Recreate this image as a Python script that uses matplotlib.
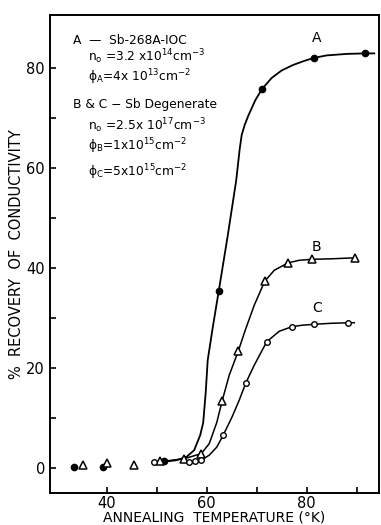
import matplotlib.pyplot as plt

plt.rcParams['font.family'] = ['DejaVu Sans']
plt.rcParams['mathtext.default'] = 'regular'

# measured points (markers)
a_x = [33.4, 39.3, 51.5, 62.4, 71.0, 81.4, 91.6]
a_y = [0.1, 0.2, 1.3, 35.3, 75.7, 82.0, 82.9]
b_x = [35.3, 40.1, 45.5, 50.6, 55.5, 58.9, 63.1, 66.3, 71.6, 76.3, 81.1, 89.7]
b_y = [0.6, 1.0, 0.6, 1.3, 1.8, 2.8, 13.4, 23.3, 37.3, 41.0, 41.7, 42.0]
c_x = [49.5, 56.5, 57.6, 58.9, 63.3, 67.8, 72.0, 77.0, 81.5, 88.3]
c_y = [1.1, 1.2, 1.3, 1.5, 6.5, 16.9, 25.2, 28.2, 28.7, 29.0]

# hand-drawn curves
a_line_x = [51.5, 54.0, 56.0, 57.5, 58.7, 59.3, 59.8, 60.2, 61.2, 62.4, 64.2, 65.9,
            66.2, 66.6, 67.0, 67.6, 68.3, 69.7, 71.0, 73.0, 75.0, 77.3, 79.5, 81.4,
            84.0, 88.0, 91.6, 93.5]
a_line_y = [1.2, 1.5, 2.2, 3.5, 6.5, 9.0, 15.0, 21.5, 28.0, 35.3, 46.4, 57.5,
            60.2, 63.8, 66.6, 68.6, 70.4, 73.5, 75.7, 78.0, 79.5, 80.6, 81.4, 82.0,
            82.5, 82.8, 82.9, 82.9]
b_line_x = [51.5, 55.5, 58.9, 60.5, 62.0, 63.1, 64.5, 66.3, 67.7, 69.5, 71.6, 73.5,
            76.3, 78.5, 81.1, 85.0, 89.7]
b_line_y = [1.3, 1.8, 2.8, 4.8, 9.0, 13.4, 18.5, 23.3, 27.5, 32.5, 37.3, 39.5,
            41.0, 41.5, 41.7, 41.8, 42.0]
c_line_x = [55.5, 56.5, 57.6, 58.9, 60.5, 62.0, 63.3, 65.0, 66.5, 67.8, 69.5, 72.0,
            74.5, 77.0, 79.0, 81.5, 85.0, 88.3, 89.5]
c_line_y = [1.6, 1.2, 1.3, 1.5, 2.5, 4.1, 6.5, 10.0, 13.5, 16.9, 20.5, 25.2,
            27.3, 28.2, 28.5, 28.7, 28.9, 29.0, 29.0]

x_major = [40, 60, 80]
x_minor = [50, 70, 90]
y_major = [0, 20, 40, 60, 80]
y_minor = [10, 30, 50, 70]

fig = plt.figure(figsize=(3.81, 5.25), dpi=100)
ax = fig.add_axes([0.131, 0.061, 0.864, 0.910])

ax.plot(a_line_x, a_line_y, color='black', lw=1.3)
ax.plot(b_line_x, b_line_y, color='black', lw=1.1)
ax.plot(c_line_x, c_line_y, color='black', lw=1.1)

ax.plot(a_x, a_y, 'o', color='black', ms=4.5, ls='none')
ax.plot(b_x, b_y, '^', mfc='white', mec='black', mew=1.1, ms=6, ls='none')
ax.plot(c_x, c_y, 'o', mfc='white', mec='black', mew=1.0, ms=4, ls='none')

ax.set_xlim(28.66, 94.46)
ax.set_ylim(-5.06, 90.54)
ax.set_xticks(x_major)
ax.set_xticks(x_minor, minor=True)
ax.set_yticks(y_major)
ax.set_yticks(y_minor, minor=True)
ax.tick_params(which='both', direction='in', length=4, width=1.2, labelsize=10.5)
ax.tick_params(axis='x', pad=2)
for s in ax.spines.values():
    s.set_linewidth(1.4)

ax.set_xlabel('ANNEALING  TEMPERATURE (°K)', fontsize=10, labelpad=0)
ax.set_ylabel('%  RECOVERY  OF  CONDUCTIVITY', fontsize=10.5, labelpad=2)

ax.text(82.0, 84.5, 'A', fontsize=10, ha='center', va='bottom')
ax.text(82.0, 42.8, 'B', fontsize=10, ha='center', va='bottom')
ax.text(82.0, 30.6, 'C', fontsize=10, ha='center', va='bottom')

fs = 8.8
ax.text(33.3, 85.4, 'A  —  Sb-268A-IOC', fontsize=fs, va='center')
ax.text(36.2, 82.2, r'$n_o$ =3.2 x10$^{14}$cm$^{-3}$', fontsize=fs, va='center')
ax.text(36.2, 78.2, r'$\phi_A$=4x 10$^{13}$cm$^{-2}$', fontsize=fs, va='center')
ax.text(33.3, 72.6, 'B & C − Sb Degenerate', fontsize=fs, va='center')
ax.text(36.2, 68.4, r'$n_o$ =2.5x 10$^{17}$cm$^{-3}$', fontsize=fs, va='center')
ax.text(36.2, 64.4, r'$\phi_B$=1x10$^{15}$cm$^{-2}$', fontsize=fs, va='center')
ax.text(36.2, 59.2, r'$\phi_C$=5x10$^{15}$cm$^{-2}$', fontsize=fs, va='center')

fig.savefig('out.png', dpi=100)
